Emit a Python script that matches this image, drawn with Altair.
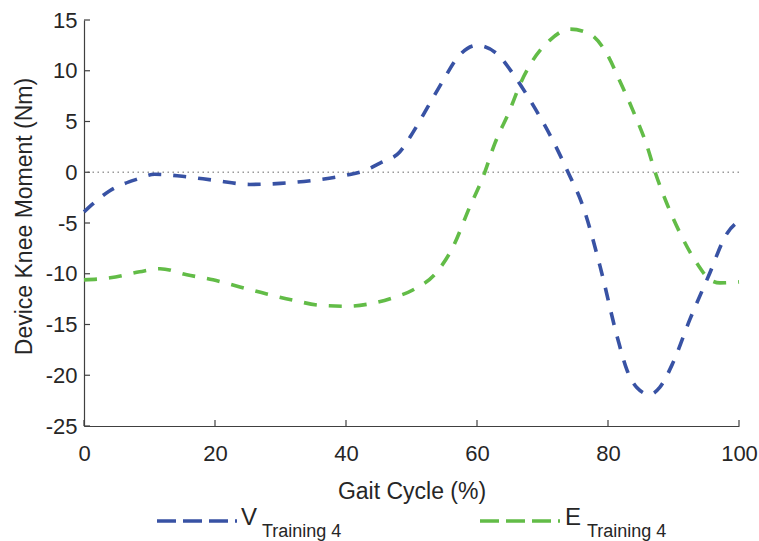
import altair as alt
import pandas as pd

# Gait cycle (%) and device knee moment (Nm) for the two training conditions
v_x = [0, 4, 8, 10.8, 15, 20, 25.3, 30, 35, 40, 43, 45.2, 48.2, 50.2, 52.8, 54.8,
       56.9, 60, 63, 65.5, 68.1, 71.6, 73.9, 76.2, 78.8, 81.4, 82.9, 84.4, 86.4,
       87.9, 89.9, 92.5, 95.3, 98.2, 100]
v_y = [-3.9, -1.8, -0.7, -0.2, -0.4, -0.8, -1.2, -1.1, -0.8, -0.3, 0.2, 0.9, 2.0,
       3.9, 6.8, 9.0, 11.2, 12.5, 11.7, 9.7, 7.1, 3.1, 0.0, -3.4, -9.3, -16.2,
       -19.5, -21.2, -21.9, -21.2, -18.8, -14.5, -10.3, -6.0, -4.8]

e_x = [0, 4, 8.5, 11.6, 15.7, 19.7, 23.8, 27.9, 31.9, 36, 40.2, 44.1, 47, 50.2,
       53.9, 56.3, 58.9, 60.9, 62.7, 65, 66.6, 68.5, 71.1, 74.2, 77.3, 79.8, 81.8,
       83.8, 86, 87.2, 89, 91, 93.6, 95.6, 97.1, 100]
e_y = [-10.6, -10.4, -9.8, -9.5, -10.1, -10.6, -11.3, -12.0, -12.6, -13.1, -13.2,
       -12.9, -12.4, -11.6, -9.8, -7.4, -3.4, -0.5, 2.8, 6.1, 8.7, 11.0, 13.0, 14.1,
       13.6, 11.7, 9.0, 6.1, 2.5, 0.0, -3.1, -6.0, -9.0, -10.6, -10.9, -10.8]

series_names = ["V", "E"]
series_colors = ["#3852A4", "#62BC47"]

x_ticks = [0, 20, 40, 60, 80, 100]
y_ticks = [-25, -20, -15, -10, -5, 0, 5, 10, 15]

W, H = 655, 406
FONT = "Liberation Sans"
AXIS_COLOR = "#404040"
TEXT_COLOR = "#262626"

# plain hyphen for negative tick labels
HYPHEN_LABEL = "datum.value < 0 ? '-' + abs(datum.value) : '' + datum.value"

curves = pd.concat([
    pd.DataFrame({"gait": v_x, "moment": v_y, "series": "V"}),
    pd.DataFrame({"gait": e_x, "moment": e_y, "series": "E"}),
])

X = alt.X("gait:Q", scale=alt.Scale(domain=[0, 100], nice=False, zero=False),
          axis=alt.Axis(title="Gait Cycle (%)", values=x_ticks, ticks=False,
                        grid=False, labelPadding=17, titleY=72,
                        titleBaseline="alphabetic"))
Y = alt.Y("moment:Q", scale=alt.Scale(domain=[-25, 15], nice=False, zero=False),
          axis=alt.Axis(title="Device Knee Moment (Nm)", values=y_ticks, ticks=False,
                        grid=False, labelPadding=7, titleX=-53, titleY=196,
                        titleAngle=-90, titleAlign="center",
                        titleBaseline="alphabetic", labelExpr=HYPHEN_LABEL))

lines = alt.Chart(curves).mark_line(
    strokeWidth=3.6, strokeDash=[13, 12], interpolate="monotone"
).encode(
    x=X, y=Y,
    color=alt.Color("series:N", scale=alt.Scale(domain=series_names, range=series_colors),
                    legend=None),
    detail="series:N",
)

# dotted zero reference line
zero = alt.Chart(pd.DataFrame({"moment": [0]})).mark_rule(
    color="#9a9a9a", strokeWidth=1.5, strokeDash=[1.5, 3.5]
).encode(y=Y)

# inward tick marks on both axes
yticks = alt.Chart(pd.DataFrame({"moment": y_ticks})).mark_rule(
    color=AXIS_COLOR, strokeWidth=1.2
).encode(y=Y, x=alt.value(0), x2=alt.value(6))
xticks = alt.Chart(pd.DataFrame({"gait": x_ticks})).mark_rule(
    color=AXIS_COLOR, strokeWidth=1.2
).encode(x=X, y=alt.value(H), y2=alt.value(H - 6))

# legend below the plot, with subscripted labels
leg_y = 501
leg_items = [
    # (color, line start, line end, letter x, letter, subscript x)
    ("#3852A4", 73, 153, 157, "V", 178),
    ("#62BC47", 396, 476, 481, "E", 503),
]
leg_layers = []
for col, x0, x1, tx, letter, sx in leg_items:
    d = pd.DataFrame({"label": [letter]})
    leg_layers.append(
        alt.Chart(d).mark_rule(color=col, strokeWidth=3.5, strokeDash=[19, 7]).encode(
            x=alt.value(x0), x2=alt.value(x1), y=alt.value(leg_y))
    )
    leg_layers.append(
        alt.Chart(d).mark_text(font=FONT, fontSize=24, color=TEXT_COLOR, align="left",
                               baseline="alphabetic").encode(
            text="label:N", x=alt.value(tx), y=alt.value(leg_y + 4))
    )
    leg_layers.append(
        alt.Chart(pd.DataFrame({"label": ["Training 4"]})).mark_text(
            font=FONT, fontSize=18, color=TEXT_COLOR, align="left",
            baseline="alphabetic").encode(
            text="label:N", x=alt.value(sx), y=alt.value(leg_y + 16))
    )

chart = alt.layer(zero, lines, yticks, xticks, *leg_layers).properties(
    width=W, height=H,
    autosize=alt.AutoSizeParams(type="none"),
    padding={"left": 84, "top": 20, "right": 20, "bottom": 115},
).configure_view(stroke=None).configure_axis(
    domainColor=AXIS_COLOR, domainWidth=1.2,
    labelFont=FONT, labelFontSize=22, labelColor=TEXT_COLOR,
    titleFont=FONT, titleFontSize=23, titleColor=TEXT_COLOR, titleFontWeight="normal",
    labelFlush=False,
)

chart.save("out.html", embed_options={"renderer": "svg", "actions": False})
